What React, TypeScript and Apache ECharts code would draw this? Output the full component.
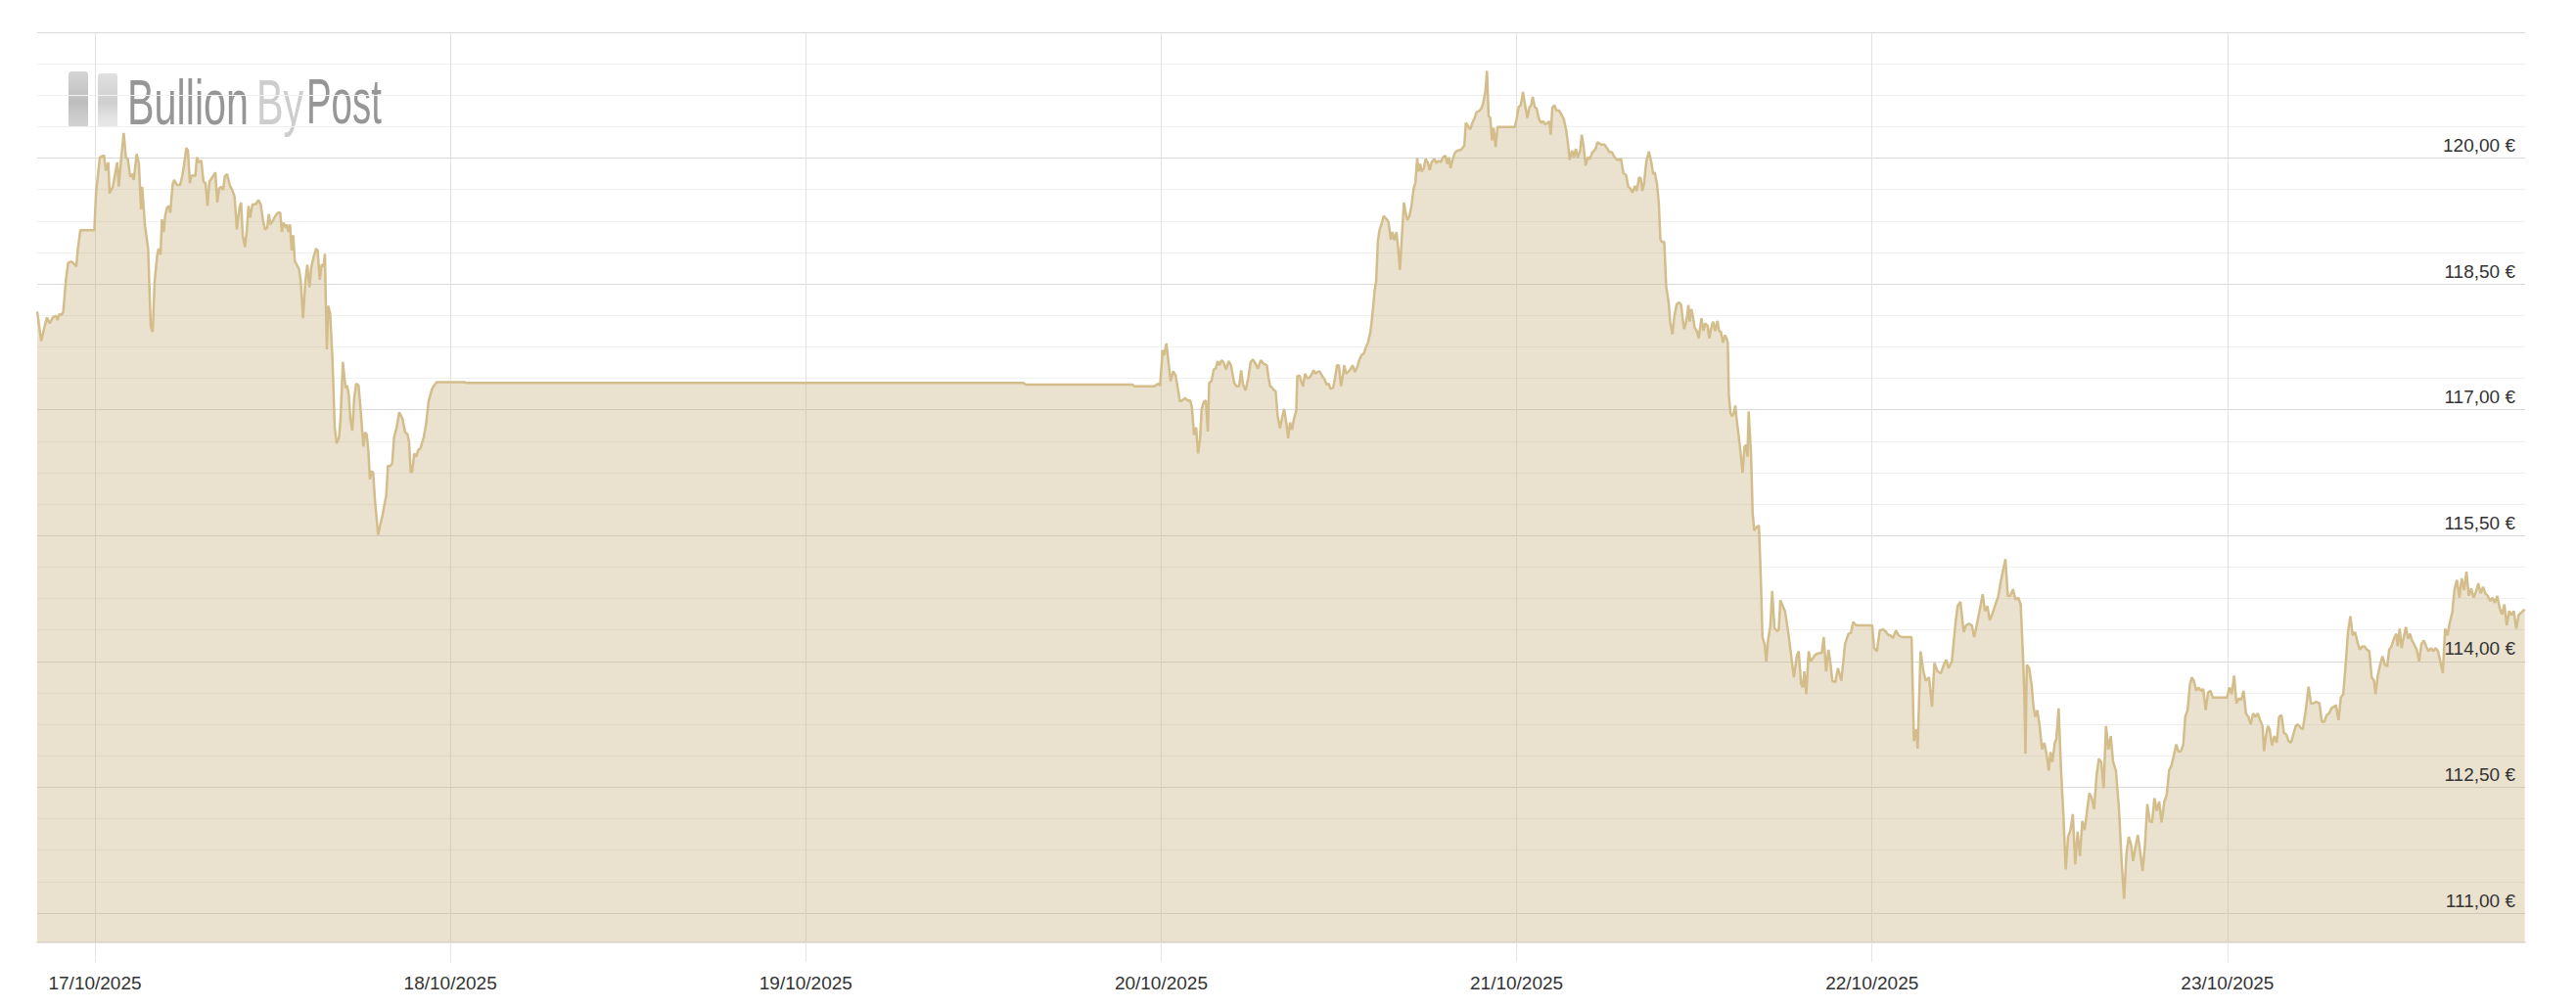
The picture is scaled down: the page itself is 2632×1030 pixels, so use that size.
import React, { useEffect, useRef } from "react";
import * as echarts from "echarts";

// Hours are counted from 17/10/2025 00:00; prices in EUR.
const dayTickHours = [0, 24, 48, 72, 96, 120, 144];
const priceLabelValues = [111, 112.5, 114, 115.5, 117, 118.5, 120];
const gridLineValues = [
  111, 111.375, 111.75, 112.125, 112.5, 112.875, 113.25, 113.625, 114, 114.375, 114.75, 115.125,
  115.5, 115.875, 116.25, 116.625, 117, 117.375, 117.75, 118.125, 118.5, 118.875, 119.25, 119.625,
  120, 120.375, 120.75, 121.125, 121.5,
];

const oct16to17: [number, number][] = [
  [-3.9,118.17],[-3.63,117.82],[-3.35,118.03],[-3.24,118.1],[-3.06,118.03],[-2.84,118.1],[-2.62,118.12],[-2.53,118.07],[-2.4,118.14],[-2.25,118.13],[-2.14,118.17],[-1.96,118.55],[-1.81,118.75],[-1.59,118.77],[-1.37,118.73],[-1.26,118.71],[-1.15,118.92],[-0.99,119.14],[-0.04,119.14],[0.07,119.58],[0.33,120.01],[0.62,120.03],[0.73,119.85],[0.9,119.95],[0.99,119.58],[1.21,119.66],[1.5,119.95],[1.61,119.66],[1.78,120.01],[1.94,120.3],[2.09,120.01],[2.22,119.99],[2.38,119.78],[2.53,119.81],[2.62,119.74],[2.82,120.05],[2.97,119.93],[3.11,119.39],[3.19,119.66],[3.37,119.21],[3.59,118.92],[3.77,117.99],[3.9,117.93],[4.03,118.53],[4.21,118.85],[4.3,118.92],[4.43,118.85],[4.52,119.27],[4.65,119.12],[4.74,119.31],[4.87,119.41],[5.0,119.43],[5.09,119.35],[5.24,119.68],[5.35,119.74],[5.53,119.68],[5.75,119.68],[5.9,119.79],[6.01,119.91],[6.17,120.12],[6.28,120.09],[6.41,119.7],[6.5,119.79],[6.78,119.79],[6.89,120.01],[7.0,119.95],[7.18,119.97],[7.33,119.72],[7.47,119.7],[7.6,119.43],[7.73,119.72],[8.0,119.79],[8.13,119.83],[8.26,119.47],[8.39,119.64],[8.55,119.66],[8.66,119.62],[8.77,119.78],[8.92,119.81],[9.1,119.68],[9.27,119.62],[9.43,119.54],[9.58,119.15],[9.76,119.41],[9.87,119.47],[9.98,119.08],[10.13,118.94],[10.26,119.15],[10.37,119.43],[10.48,119.29],[10.64,119.45],[10.86,119.45],[11.04,119.5],[11.19,119.45],[11.34,119.27],[11.48,119.15],[11.63,119.17],[11.74,119.33],[11.85,119.21],[12.0,119.25],[12.18,119.31],[12.36,119.35],[12.51,119.35],[12.62,119.12],[12.73,119.23],[12.89,119.17],[12.95,119.21],[13.06,119.12],[13.17,119.21],[13.28,118.9],[13.39,119.08],[13.5,118.77],[13.63,118.73],[13.79,118.67],[13.9,118.53],[14.05,118.09],[14.21,118.53],[14.34,118.73],[14.49,118.46],[14.6,118.69],[14.78,118.83],[14.93,118.92],[15.04,118.9],[15.18,118.55],[15.31,118.73],[15.44,118.71],[15.53,118.86],[15.59,118.28],[15.66,117.72],[15.75,118.24],[15.88,118.15],[16.04,117.6],[16.19,116.79],[16.32,116.6],[16.48,116.67],[16.59,116.91],[16.74,117.57],[16.92,117.26],[17.03,117.29],[17.14,117.18],[17.25,116.89],[17.38,116.75],[17.51,117.14],[17.64,117.31],[17.8,117.29],[17.95,116.98],[18.13,116.56],[18.24,116.73],[18.35,116.71],[18.46,116.52],[18.57,116.17],[18.68,116.27],[18.79,116.25],[18.9,115.94],[19.12,115.51],[19.41,115.74],[19.67,115.98],[19.78,116.33],[19.93,116.33],[20.07,116.36],[20.2,116.67],[20.37,116.79],[20.55,116.97],[20.77,116.89],[20.95,116.73],[21.1,116.71],[21.21,116.62],[21.32,116.25],[21.43,116.27],[21.56,116.48],[21.7,116.44],[21.83,116.52],[21.98,116.54],[22.2,116.67],[22.36,116.83],[22.53,117.1],[22.75,117.24],[22.86,117.28],[23.08,117.33],
];

const weekendFlat: [number, number][] = [
  [24.96,117.33],[25.07,117.32],[62.7,117.32],[62.85,117.3],[70.05,117.3],[70.17,117.28],[71.54,117.28],[71.76,117.31],[71.93,117.29],
];

const oct20to21: [number, number][] = [
  [72.09,117.71],[72.2,117.65],[72.35,117.79],[72.48,117.59],[72.64,117.34],[72.81,117.46],[72.97,117.41],[73.12,117.26],[73.26,117.1],[73.41,117.11],[73.63,117.14],[73.78,117.11],[73.96,117.11],[74.07,117.03],[74.22,116.7],[74.36,116.79],[74.49,116.48],[74.62,116.64],[74.73,117.01],[74.89,117.1],[75.02,117.11],[75.15,116.74],[75.24,117.32],[75.39,117.34],[75.55,117.48],[75.68,117.49],[75.81,117.58],[75.94,117.53],[76.07,117.59],[76.2,117.57],[76.38,117.48],[76.56,117.58],[76.71,117.53],[76.93,117.32],[77.09,117.28],[77.26,117.28],[77.4,117.47],[77.53,117.3],[77.7,117.23],[77.88,117.38],[78.04,117.57],[78.19,117.6],[78.37,117.55],[78.54,117.49],[78.72,117.59],[78.92,117.55],[79.14,117.53],[79.25,117.38],[79.36,117.28],[79.47,117.27],[79.58,117.24],[79.73,117.22],[79.86,116.93],[80.02,116.78],[80.17,116.91],[80.3,117.01],[80.46,116.83],[80.57,116.66],[80.7,116.85],[80.83,116.76],[80.96,116.89],[81.12,116.99],[81.19,117.4],[81.34,117.41],[81.45,117.34],[81.58,117.28],[81.71,117.43],[81.85,117.38],[82.0,117.38],[82.15,117.42],[82.29,117.47],[82.42,117.43],[82.55,117.45],[82.69,117.46],[82.88,117.4],[83.04,117.36],[83.17,117.3],[83.32,117.31],[83.43,117.25],[83.61,117.26],[83.72,117.36],[83.87,117.53],[84.0,117.53],[84.14,117.28],[84.27,117.41],[84.36,117.53],[84.49,117.43],[84.62,117.45],[84.76,117.48],[84.93,117.53],[85.08,117.45],[85.24,117.51],[85.37,117.59],[85.52,117.65],[85.68,117.67],[85.81,117.74],[85.96,117.8],[86.12,117.92],[86.25,118.11],[86.41,118.42],[86.52,118.54],[86.63,119.0],[86.74,119.14],[86.89,119.22],[87.02,119.31],[87.18,119.28],[87.35,119.24],[87.51,119.03],[87.62,119.12],[87.75,119.02],[87.89,119.12],[88.02,118.89],[88.12,118.67],[88.23,119.0],[88.39,119.47],[88.55,119.31],[88.63,119.26],[88.76,119.31],[88.9,119.43],[89.05,119.64],[89.16,119.7],[89.29,120.0],[89.38,119.84],[89.49,119.93],[89.6,119.84],[89.74,119.88],[89.86,119.99],[90.0,119.95],[90.13,119.86],[90.26,119.95],[90.44,119.99],[90.59,119.94],[90.74,119.97],[90.88,119.95],[91.03,120.01],[91.19,120.03],[91.32,119.93],[91.43,120.01],[91.54,119.88],[91.69,119.99],[91.85,120.07],[92.02,120.09],[92.25,120.1],[92.47,120.15],[92.57,120.42],[92.73,120.38],[92.86,120.34],[93.01,120.42],[93.17,120.48],[93.3,120.55],[93.46,120.56],[93.61,120.59],[93.74,120.65],[93.89,120.79],[94.0,121.04],[94.11,120.5],[94.22,120.48],[94.34,120.21],[94.45,120.36],[94.58,120.13],[94.71,120.37],[94.89,120.37],[95.88,120.37],[95.99,120.46],[96.14,120.61],[96.28,120.63],[96.43,120.79],[96.56,120.65],[96.72,120.48],[96.87,120.61],[96.98,120.63],[97.09,120.73],[97.22,120.61],[97.36,120.59],[97.49,120.48],[97.64,120.42],[97.8,120.44],[97.93,120.4],[98.09,120.42],[98.2,120.44],[98.31,120.28],[98.41,120.6],[98.55,120.63],[98.68,120.57],[98.85,120.57],[99.03,120.52],[99.19,120.46],[99.34,120.34],[99.47,120.17],[99.58,119.98],[99.74,120.09],[99.87,120.01],[100.0,120.11],[100.13,120.01],[100.29,120.09],[100.4,120.28],[100.53,120.13],[100.66,119.91],[100.8,120.01],[100.95,119.99],[101.11,120.07],[101.24,120.09],[101.33,120.11],[101.46,120.19],[101.62,120.17],[101.78,120.16],[101.95,120.16],[102.13,120.11],[102.28,120.07],[102.44,120.07],[102.61,120.01],[102.79,119.98],[102.94,119.98],[103.05,119.99],[103.21,119.82],[103.39,119.8],[103.54,119.66],[103.67,119.64],[103.83,119.59],
];

const oct21late: [number, number][] = [
  [103.99,119.67],[104.12,119.61],[104.27,119.77],[104.38,119.76],[104.49,119.61],[104.6,119.69],[104.76,119.96],[104.93,120.08],[105.09,119.96],[105.22,119.81],[105.33,119.83],[105.48,119.69],[105.6,119.47],[105.71,119.03],[105.82,119.0],[105.97,119.0],[106.1,118.47],[106.26,118.29],[106.37,118.05],[106.52,117.9],[106.65,118.11],[106.81,118.26],[106.98,118.28],[107.11,118.25],[107.2,118.11],[107.31,117.96],[107.42,118.03],[107.51,118.11],[107.6,118.25],[107.69,118.05],[107.8,118.2],[107.91,118.11],[108.02,117.98],[108.17,117.94],[108.3,117.85],[108.39,117.98],[108.48,118.09],[108.61,117.94],[108.74,118.03],[108.9,118.0],[109.01,117.85],[109.12,117.96],[109.27,118.05],[109.41,117.94],[109.56,118.06],[109.67,117.94],[109.8,117.93],[109.93,117.8],[110.07,117.89],[110.18,117.85],[110.26,117.8],[110.33,117.18],[110.44,116.96],[110.55,116.92],[110.66,116.96],[110.77,117.05],[110.84,116.92],[110.95,116.76],[111.08,116.56],[111.26,116.25],[111.39,116.56],[111.5,116.58],[111.59,116.44],[111.67,116.98],[111.83,116.47],[111.94,115.76],[112.05,115.56],[112.2,115.6],[112.36,115.62],[112.49,115.0],[112.6,114.29],[112.75,114.2],[112.86,114.0],[112.97,114.24],[113.13,114.42],[113.26,114.84],[113.41,114.4],[113.59,114.36],[113.7,114.38],[113.81,114.73],
];

const oct22to23: [number, number][] = [
  [114.12,114.6],[114.34,114.35],[114.56,114.04],[114.72,113.81],[114.92,114.06],[115.05,114.12],[115.21,113.73],[115.33,113.69],[115.43,113.88],[115.56,113.61],[115.72,114.12],[115.85,114.0],[116.01,114.04],[116.17,114.08],[116.42,114.1],[116.61,114.1],[116.74,114.29],[116.9,113.88],[117.06,114.14],[117.19,113.98],[117.32,113.77],[117.51,113.75],[117.7,113.92],[117.93,113.77],[118.18,114.21],[118.41,114.33],[118.57,114.34],[118.73,114.47],[118.92,114.43],[119.31,114.43],[120.01,114.43],[120.14,114.16],[120.33,114.12],[120.52,114.37],[120.75,114.38],[120.91,114.36],[121.07,114.32],[121.23,114.31],[121.42,114.28],[121.61,114.37],[121.8,114.31],[122.03,114.29],[122.67,114.29],[122.83,113.05],[122.99,113.19],[123.08,112.96],[123.28,114.12],[123.47,113.88],[123.63,113.77],[123.85,113.81],[124.05,113.46],[124.21,113.98],[124.43,113.88],[124.65,113.86],[124.85,113.96],[125.01,114.02],[125.17,113.92],[125.39,114.0],[125.62,114.43],[125.78,114.66],[125.97,114.71],[126.19,114.35],[126.35,114.43],[126.54,114.45],[126.74,114.43],[126.9,114.29],[127.09,114.45],[127.28,114.62],[127.47,114.8],[127.63,114.6],[127.79,114.66],[127.95,114.49],[128.15,114.58],[128.34,114.68],[128.53,114.78],[128.69,114.95],[128.85,115.09],[129.01,115.22],[129.17,114.78],[129.33,114.78],[129.52,114.86],[129.68,114.74],[129.88,114.76],[130.04,114.68],[130.2,114.04],[130.29,113.57],[130.36,112.9],[130.45,113.96],[130.61,113.92],[130.77,113.73],[130.9,113.46],[131.03,113.34],[131.16,113.42],[131.32,113.23],[131.48,112.95],[131.64,113.03],[131.8,112.88],[131.93,112.7],[132.05,112.92],[132.18,112.8],[132.34,113.03],[132.44,113.07],[132.6,113.44],[132.76,112.72],[132.92,112.18],[133.08,111.52],[133.24,111.91],[133.4,111.99],[133.56,112.18],[133.72,111.58],[133.88,111.97],[134.04,111.68],[134.2,112.1],[134.36,111.99],[134.52,112.22],[134.68,112.43],[134.84,112.37],[135.0,112.24],[135.16,112.64],[135.32,112.84],[135.48,112.8],[135.64,112.49],[135.8,113.23],[135.96,112.95],[136.12,113.11],[136.28,112.8],[136.47,112.7],[136.67,112.26],[136.86,111.6],[137.02,111.17],[137.18,111.71],[137.34,111.91],[137.5,111.81],[137.63,111.62],[137.79,111.79],[137.95,111.93],[138.11,111.73],[138.27,111.5],[138.43,111.81],[138.59,112.3],[138.75,112.1],[138.91,112.08],[139.07,112.37],[139.23,112.22],[139.39,112.33],[139.55,112.08],[139.74,112.33],[139.9,112.41],[140.06,112.7],[140.22,112.76],[140.38,112.88],[140.54,113.01],[140.7,112.92],[140.86,112.93],[141.02,113.01],[141.15,113.34],[141.31,113.42],[141.47,113.73],[141.6,113.81],[141.73,113.77],[141.89,113.65],[142.05,113.69],[142.21,113.65],[142.37,113.67],[142.53,113.42],[142.69,113.63],[142.85,113.65],[143.01,113.57],[143.97,113.57],[144.13,113.69],[144.29,113.61],[144.45,113.83],[144.61,113.5],[144.77,113.56],[144.93,113.54],[145.09,113.65],[145.25,113.38],[145.41,113.34],[145.57,113.25],[145.73,113.38],[145.89,113.34],[146.05,113.38],[146.21,113.3],[146.37,113.23],[146.47,112.93],[146.6,113.11],[146.73,113.23],[146.85,113.19],[147.01,113.0],[147.17,113.11],[147.33,113.03],[147.49,113.34],[147.65,113.36],[147.81,113.15],[147.97,113.13],[148.13,113.05],[148.29,113.03],[148.45,113.13],[148.61,113.23],[148.77,113.25],[148.93,113.21],[149.09,113.19],[149.29,113.42],[149.48,113.7],[149.64,113.5],[149.8,113.5],[149.99,113.52],[150.21,113.5],[150.38,113.28],[150.54,113.28],[150.7,113.36],[150.86,113.38],[151.02,113.44],[151.18,113.46],[151.33,113.48],[151.5,113.3],[151.66,113.57],[151.82,113.61],[151.98,113.96],[152.14,114.35],[152.3,114.54],[152.46,114.31],[152.62,114.35],[152.78,114.23],[152.94,114.14],[153.1,114.18],[153.26,114.18],[153.42,114.14],[153.58,114.12],[153.74,113.81],[153.9,113.77],[154.0,113.61],[154.15,113.83],[154.31,113.96],[154.47,114.06],[154.63,113.96],[154.79,113.94],[154.92,114.14],[155.08,114.18],[155.24,114.27],[155.4,114.33],[155.5,114.18],[155.63,114.39],[155.76,114.16],[155.88,114.27],[156.05,114.41],[156.2,114.27],[156.33,114.33],[156.46,114.25],[156.62,114.2],[156.78,114.14],[156.94,114.0],[157.1,114.21],[157.26,114.25],[157.42,114.18],[157.58,114.12],[157.74,114.16],[157.9,114.12],[158.06,114.16],[158.22,114.12],[158.38,114.0],[158.54,113.86],[158.7,114.39],[158.86,114.31],[159.02,114.47],[159.18,114.58],[159.34,114.87],[159.5,114.97],[159.66,114.76],[159.82,114.99],[159.98,114.85],[160.14,115.07],[160.3,114.78],[160.46,114.87],[160.62,114.76],[160.78,114.83],[160.94,114.93],[161.1,114.81],[161.26,114.89],[161.42,114.81],[161.58,114.78],[161.74,114.72],[161.9,114.76],[162.06,114.7],[162.22,114.78],[162.38,114.64],[162.54,114.56],[162.7,114.68],[162.86,114.43],[163.02,114.6],[163.18,114.55],[163.34,114.6],[163.5,114.39],[163.66,114.55],[163.82,114.58],[164.08,114.62],
];

const priceSeries = [...oct16to17, ...weekendFlat, ...oct20to21, ...oct21late, ...oct22to23];

const FONT = '"Liberation Sans", Arial, sans-serif';

function formatDay(h: number): string {
  const d = new Date(Date.UTC(2025, 9, 17) + h * 3600000);
  const dd = String(d.getUTCDate()).padStart(2, "0");
  const mm = String(d.getUTCMonth() + 1).padStart(2, "0");
  return `${dd}/${mm}/${d.getUTCFullYear()}`;
}

function formatPrice(v: number): string {
  return `${v.toFixed(2).replace(".", ",")} €`;
}

export default function App() {
  const ref = useRef<HTMLDivElement>(null);
  useEffect(() => {
    if (!ref.current) return;
    const chart = echarts.init(ref.current, undefined, { renderer: "svg" });
    const barGradA = {
      type: "linear", x: 0, y: 0, x2: 0, y2: 1,
      colorStops: [
        { offset: 0, color: "#d6d6d6" },
        { offset: 0.55, color: "#bdbdbd" },
        { offset: 0.75, color: "#c9c9c9" },
        { offset: 1, color: "#d2d2d2" },
      ],
    };
    const barGradB = {
      type: "linear", x: 0, y: 0, x2: 0, y2: 1,
      colorStops: [
        { offset: 0, color: "#e0e0e0" },
        { offset: 0.55, color: "#cfcfcf" },
        { offset: 0.8, color: "#e2e2e2" },
        { offset: 1, color: "#e8e8e8" },
      ],
    };
    const yMin = 110.65;
    const yMax = 121.5;
    chart.setOption({
      animation: false,
      backgroundColor: "#ffffff",
      grid: { left: 38, right: 52, top: 33, bottom: 67, containLabel: false },
      xAxis: {
        type: "value",
        min: -3.9,
        max: 164.1,
        axisLine: { show: true, lineStyle: { color: "#e6e6e6", width: 2 } },
        axisTick: { show: true, length: 20, customValues: dayTickHours, lineStyle: { color: "#e6e6e6", width: 1 } },
        axisLabel: {
          customValues: dayTickHours,
          formatter: (v: number) => formatDay(v),
          color: "#333333",
          fontSize: 19,
          fontFamily: FONT,
          margin: 32,
        },
        splitLine: { show: true, lineStyle: { color: "#e2e2e2", width: 1 } },
      },
      yAxis: [
        {
          type: "value",
          position: "right",
          min: yMin,
          max: yMax,
          axisLine: { show: false },
          axisTick: { show: false, customValues: gridLineValues },
          axisLabel: { show: false },
          splitLine: {
            show: true,
            lineStyle: { color: ["#d9d9d9", "#f0f0f0", "#f0f0f0", "#f0f0f0"], width: 1 },
          },
        },
        {
          type: "value",
          position: "right",
          min: yMin,
          max: yMax,
          z: 10,
          axisLine: { show: false },
          axisTick: { show: false },
          splitLine: { show: false },
          axisLabel: {
            inside: true,
            customValues: priceLabelValues,
            formatter: (v: number) => formatPrice(v),
            color: "#333333",
            fontSize: 19,
            fontFamily: FONT,
            margin: 10,
            verticalAlign: "bottom",
            lineHeight: 26,
          },
        },
      ],
      graphic: [
        { type: "rect", silent: true, shape: { x: 70, y: 73, width: 20, height: 57, r: 3 }, style: { fill: barGradA } },
        { type: "rect", silent: true, shape: { x: 100, y: 75, width: 20, height: 55, r: 3 }, style: { fill: barGradB } },
        { type: "text", silent: true, x: 130, y: 104, scaleX: 0.646, style: { text: "Bullion", font: `64px ${FONT}`, fill: "#969696", verticalAlign: "middle" } },
        { type: "text", silent: true, x: 262, y: 104, scaleX: 0.646, style: { text: "By", font: `64px ${FONT}`, fill: "#cdcdcd", verticalAlign: "middle" } },
        { type: "text", silent: true, x: 313, y: 104, scaleX: 0.6, style: { text: "Post", font: `64px ${FONT}`, fill: "#969696", verticalAlign: "middle" } },
      ],
      series: [
        {
          type: "line",
          yAxisIndex: 0,
          data: priceSeries,
          showSymbol: false,
          symbol: "none",
          lineStyle: { color: "#d3bd8b", width: 2.5 },
          itemStyle: { color: "#d3bd8b" },
          areaStyle: { color: "#c3ac76", opacity: 0.35, origin: "start" },
        },
      ],
    });
    return () => chart.dispose();
  }, []);
  return <div ref={ref} style={{ position: "fixed", left: 0, top: 0, width: 2632, height: 1030 }} />;
}
